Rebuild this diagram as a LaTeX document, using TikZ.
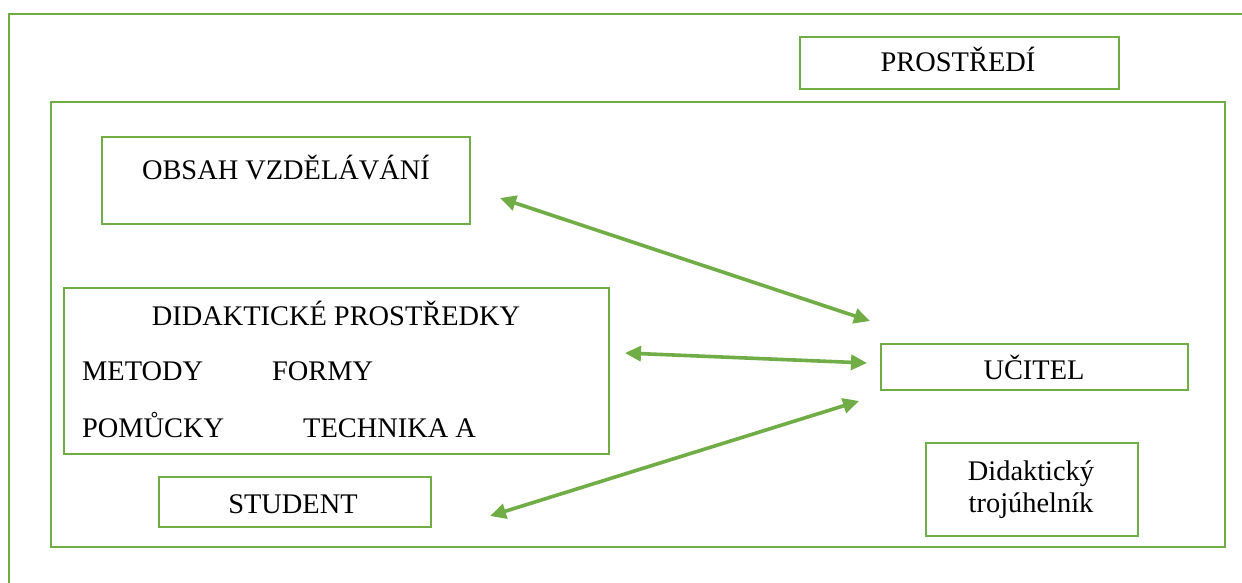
\documentclass[tikz,border=0pt]{standalone}
\usepackage{fontspec}
\setmainfont{Liberation Serif}
\usetikzlibrary{arrows.meta}
\definecolor{frgreen}{HTML}{70AD47}
\begin{document}
\begin{tikzpicture}[x=1pt,y=-1pt,
  box/.style={draw=frgreen,line width=2.2pt,rectangle,inner sep=0pt},
  txt/.style={anchor=base,inner sep=0pt,font=\fontsize{28.4}{32}\selectfont},
  link/.style={draw=frgreen,line width=3.6pt,{Triangle[length=16pt,width=15pt]}-{Triangle[length=16pt,width=15pt]}}]
\useasboundingbox (0,0) rectangle (1242,583);
\clip (0,0) rectangle (1242,583);
% outer environment frame (cut off at right and bottom)
\draw[frgreen,line width=2.2pt] (9,14) rectangle (1300,650);
% inner frame
\node[box,minimum width=1174pt,minimum height=445pt] (inner) at (638,324.5) {};
% boxes
\node[box,minimum width=319pt,minimum height=52pt] (prostredi) at (959.5,63) {};
\node[box,minimum width=368pt,minimum height=87pt] (obsah) at (286,180.5) {};
\node[box,minimum width=545pt,minimum height=166pt] (prostredky) at (336.5,371) {};
\node[box,minimum width=307pt,minimum height=46pt] (ucitel) at (1034.5,367) {};
\node[box,minimum width=272pt,minimum height=50pt] (student) at (295,502) {};
\node[box,minimum width=212pt,minimum height=93pt] (trojuhelnik) at (1032,489.5) {};
% texts
\node[txt] (tprostredi) at (958,72) {PROSTŘEDÍ};
\node[txt] (tobsah) at (286,179) {OBSAH VZDĚLÁVÁNÍ};
\node[txt] (tprostredky) at (336,325) {DIDAKTICKÉ PROSTŘEDKY};
\node[txt,anchor=base west] (tmetody) at (82,380) {METODY};
\node[txt,anchor=base west] (tformy) at (272,380) {FORMY};
\node[txt,anchor=base west] (tpomucky) at (82,437) {POMŮCKY};
\node[txt,anchor=base west] (ttechnika) at (303,437) {TECHNIKA A};
\node[txt] (tucitel) at (1034,379) {UČITEL};
\node[txt] (tstudent) at (293,513) {STUDENT};
\node[txt] (tdid1) at (1031,480) {Didaktický};
\node[txt] (tdid2) at (1031,512) {trojúhelník};
% connector ends
\coordinate (a1) at (500,198);
\coordinate (b1) at (870,321);
\coordinate (a2) at (625,353);
\coordinate (b2) at (867,363);
\coordinate (a3) at (490,516);
\coordinate (b3) at (859,401);
\draw[link] (a1) -- (b1);
\draw[link] (a2) -- (b2);
\draw[link] (a3) -- (b3);
\end{tikzpicture}
\end{document}
